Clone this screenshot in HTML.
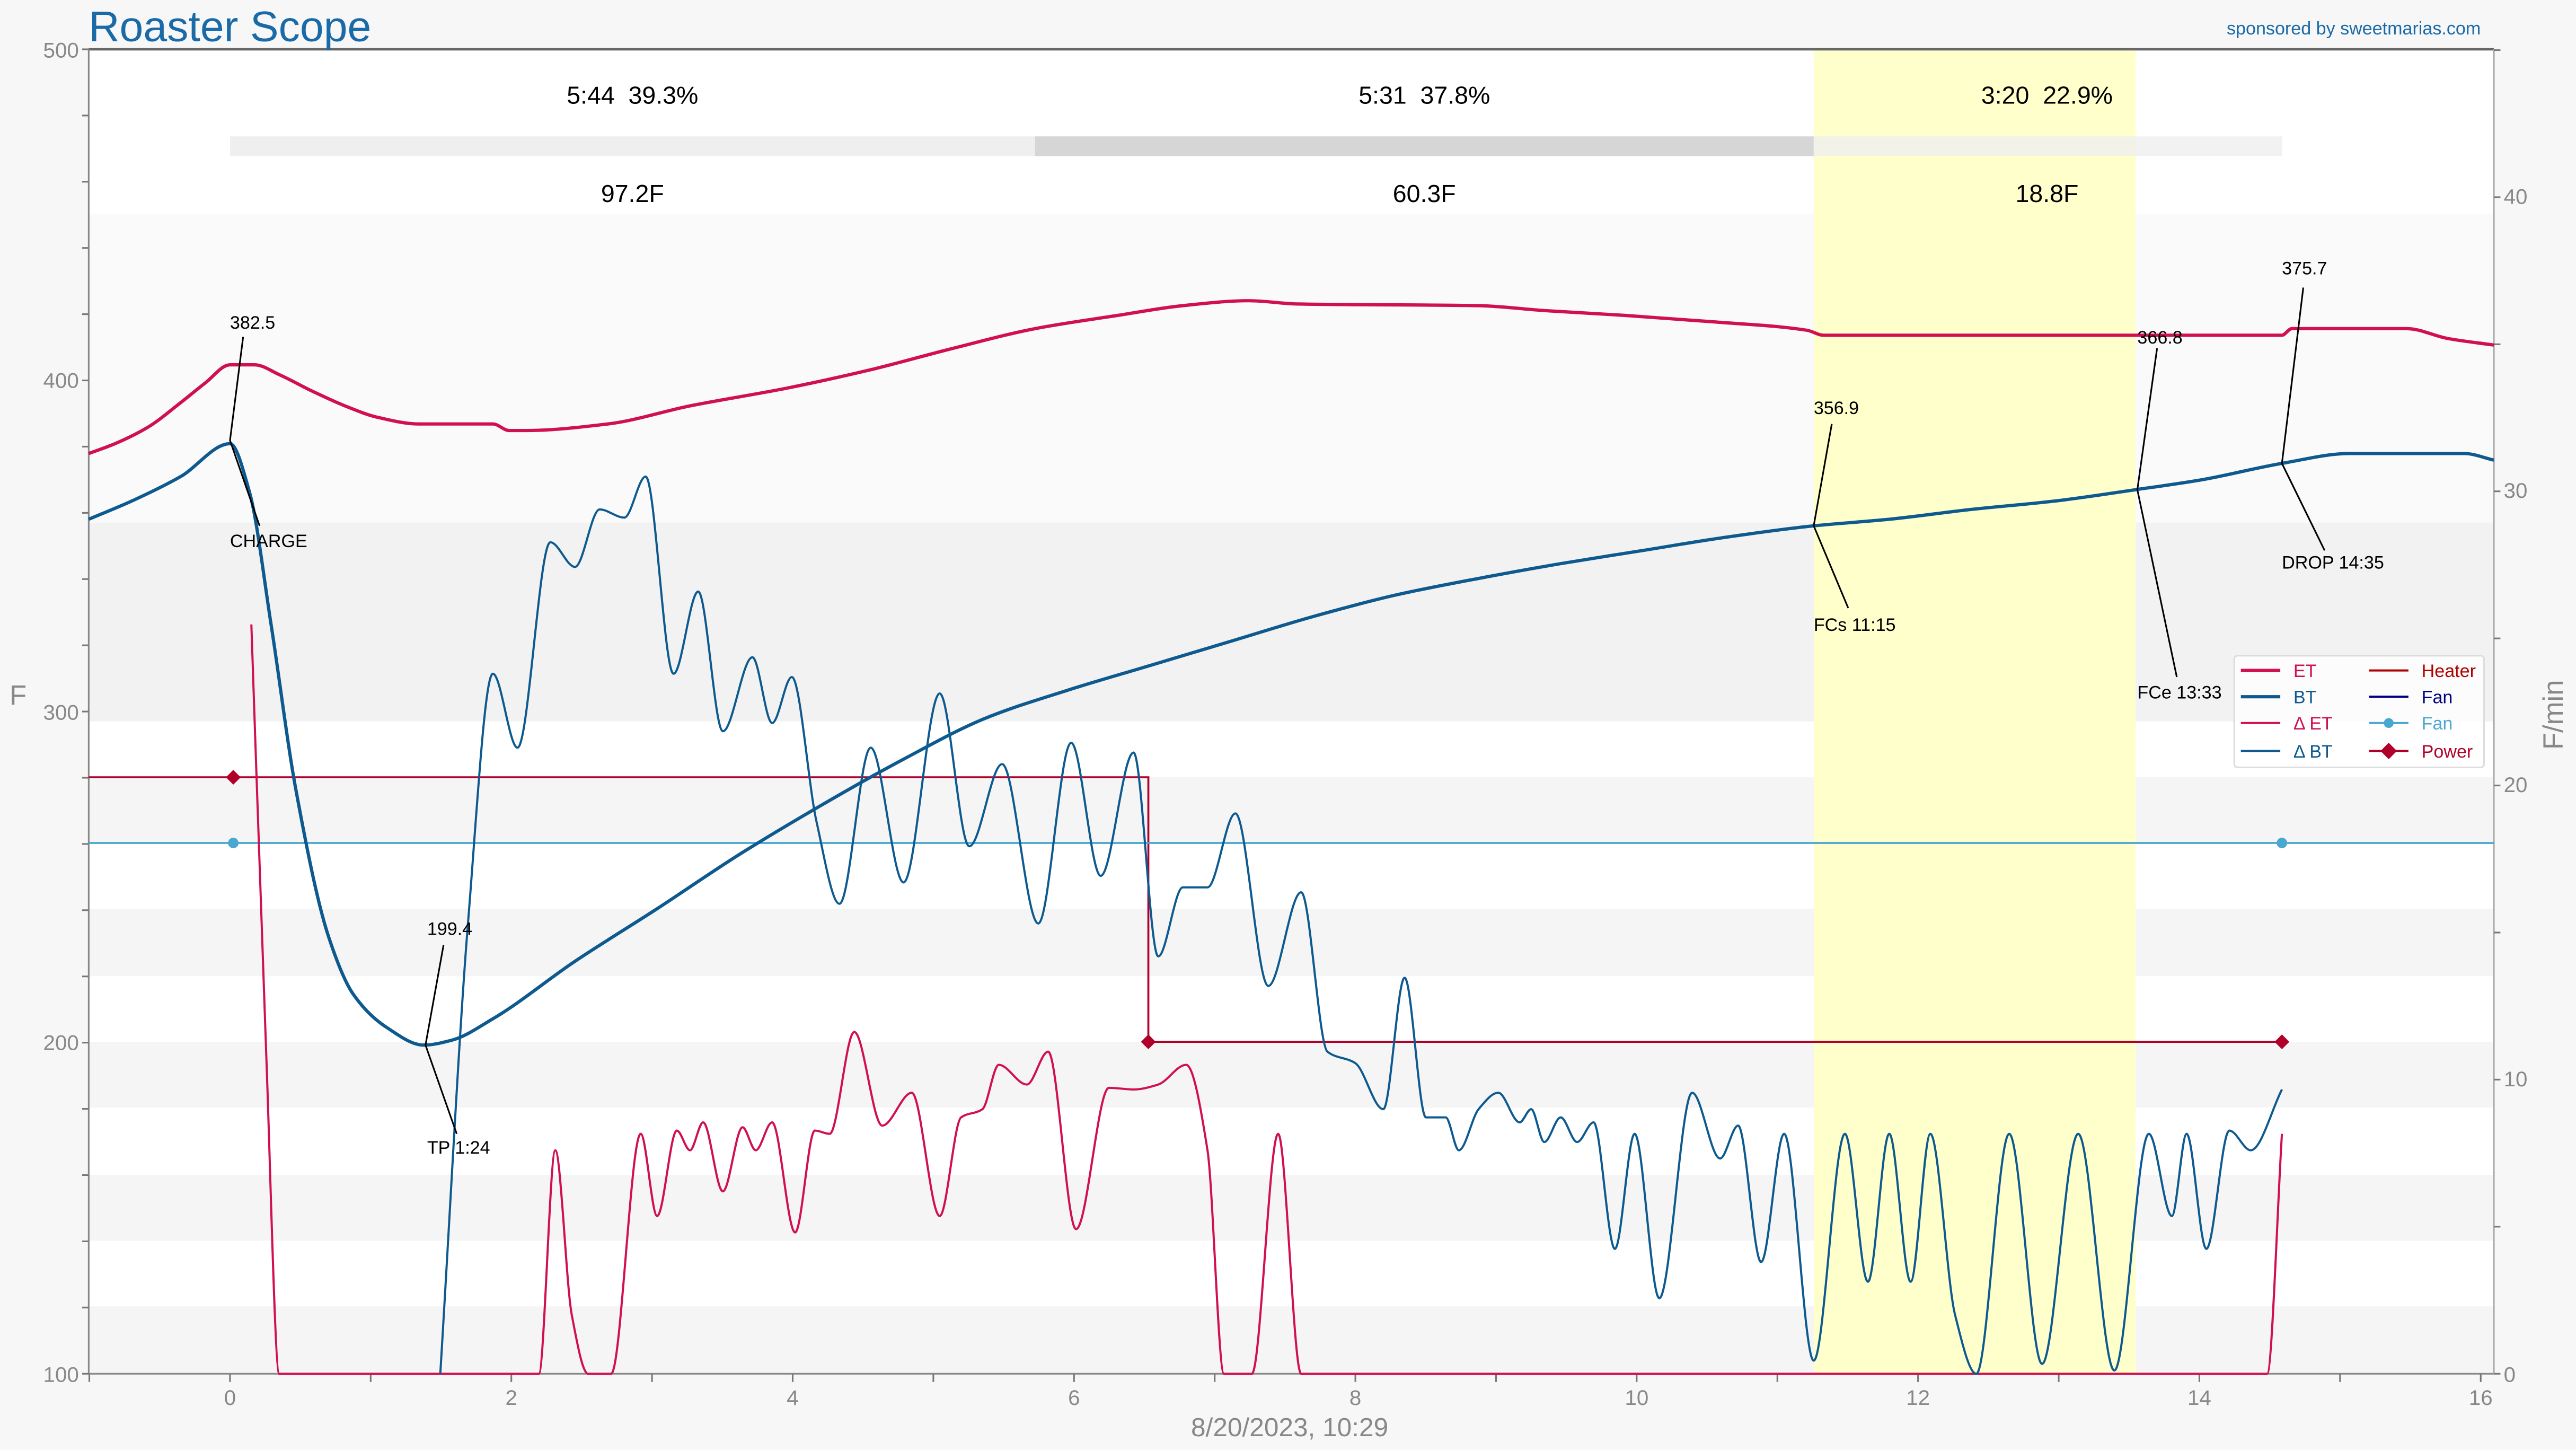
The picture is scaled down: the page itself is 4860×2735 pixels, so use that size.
<!DOCTYPE html>
<html><head><meta charset="utf-8"><style>
html,body{margin:0;padding:0;background:#f7f7f7;}
svg{display:block;}
text{font-family:"Liberation Sans",sans-serif;white-space:pre;}
</style></head><body>
<svg id="s" width="4860" height="2735" viewBox="0 0 1568 882.4" preserveAspectRatio="none" xmlns="http://www.w3.org/2000/svg" xml:space="preserve">
<rect x="0" y="0" width="1568" height="882.4" fill="#f7f7f7"/>
<rect x="54" y="30" width="1464" height="806" fill="#fff"/>
<rect x="54" y="130" width="1464" height="188" fill="#fafafa"/>
<rect x="54" y="318" width="1464" height="121" fill="#f2f2f2"/>
<g fill="#f5f5f5">
<rect x="54" y="473" width="1464" height="40"/>
<rect x="54" y="553" width="1464" height="41"/>
<rect x="54" y="634" width="1464" height="40"/>
<rect x="54" y="715" width="1464" height="40"/>
<rect x="54" y="795" width="1464" height="41"/>
</g>
<rect x="1104" y="30" width="196" height="806" fill="#ffffcc"/>
<rect x="140" y="83" width="490" height="12" fill="#efefef"/>
<rect x="630" y="83" width="474" height="12" fill="#d6d6d6"/>
<rect x="1104" y="83" width="285" height="12" fill="#efefef" opacity="0.8"/>
<g font-size="15" fill="#000" text-anchor="middle">
<text x="385" y="63">5:44  39.3%</text>
<text x="867" y="63">5:31  37.8%</text>
<text x="1246" y="63">3:20  22.9%</text>
<text x="385" y="123">97.2F</text>
<text x="867" y="123">60.3F</text>
<text x="1246" y="123">18.8F</text>
</g>
<line x1="54" y1="30" x2="1518" y2="30" stroke="#666" stroke-width="1.5"/>
<line x1="54" y1="30" x2="54" y2="836" stroke="#888" stroke-width="1"/>
<line x1="54" y1="836" x2="1518" y2="836" stroke="#888" stroke-width="1"/>
<line x1="1518" y1="30" x2="1518" y2="836" stroke="#aaa" stroke-width="1"/>
<g id="ticks" stroke="#777" stroke-width="1"></g>
<g font-size="13" fill="#888">
<g text-anchor="end">
<text x="48" y="35">500</text><text x="48" y="236">400</text><text x="48" y="438">300</text><text x="48" y="639">200</text><text x="48" y="841">100</text>
</g>
<g text-anchor="start">
<text x="1524" y="124">40</text><text x="1524" y="303">30</text><text x="1524" y="482">20</text><text x="1524" y="661">10</text><text x="1524" y="841">0</text>
</g>
<g text-anchor="middle" id="xl"></g>
</g>
<text x="11" y="429" font-size="17" fill="#888" text-anchor="middle">F</text>
<text x="1560" y="435" font-size="17" fill="#888" text-anchor="middle" transform="rotate(-90 1560 435)">F/min</text>
<text x="785" y="874" font-size="16" fill="#888" text-anchor="middle">8/20/2023, 10:29</text>
<text x="54" y="25" font-size="26" fill="#1a6aa8">Roaster Scope</text>
<text x="1510" y="21" font-size="11" fill="#1a6aa8" text-anchor="end">sponsored by sweetmarias.com</text>
<g id="series"></g>
<g font-size="11" fill="#000" stroke="none">
<text x="140" y="200">382.5</text><text x="140" y="333">CHARGE</text>
<text x="260" y="569">199.4</text><text x="260" y="702">TP 1:24</text>
<text x="1104" y="252">356.9</text><text x="1104" y="384">FCs 11:15</text>
<text x="1301" y="209">366.8</text><text x="1301" y="425">FCe 13:33</text>
<text x="1389" y="167">375.7</text><text x="1389" y="346">DROP 14:35</text>
</g>
<g stroke="#000" stroke-width="1" fill="none">
<polyline points="148,205 140,268 158,320"/>
<polyline points="270,575 259,636 278,690"/>
<polyline points="1115,258 1104,320 1125,370"/>
<polyline points="1313,212 1301,298 1325,412"/>
<polyline points="1402,175 1389,282 1415,335"/>
</g>
<rect x="1360" y="399" width="152" height="68" rx="2" fill="#fff" fill-opacity="0.75" stroke="#ddd" stroke-width="1"/>
<g font-size="11">
<line x1="1364" y1="408" x2="1388" y2="408" stroke="#d0104f" stroke-width="2"/><text x="1396" y="412" fill="#d0104f">ET</text>
<line x1="1364" y1="424" x2="1388" y2="424" stroke="#0e5a8f" stroke-width="2"/><text x="1396" y="428" fill="#0e5a8f">BT</text>
<line x1="1364" y1="440" x2="1388" y2="440" stroke="#d0104f" stroke-width="1.3"/><text x="1396" y="444" fill="#d0104f">Δ ET</text>
<line x1="1364" y1="457" x2="1388" y2="457" stroke="#0e5a8f" stroke-width="1.3"/><text x="1396" y="461" fill="#0e5a8f">Δ BT</text>
<line x1="1442" y1="408" x2="1466" y2="408" stroke="#b00000" stroke-width="1.3"/><text x="1474" y="412" fill="#b00000">Heater</text>
<line x1="1442" y1="424" x2="1466" y2="424" stroke="#000080" stroke-width="1.3"/><text x="1474" y="428" fill="#000080">Fan</text>
<line x1="1442" y1="440" x2="1466" y2="440" stroke="#4aa8d0" stroke-width="1.3"/><circle cx="1454" cy="440" r="3" fill="#4aa8d0"/><text x="1474" y="444" fill="#4aa8d0">Fan</text>
<line x1="1442" y1="457" x2="1466" y2="457" stroke="#b0002a" stroke-width="1.3"/><path d="M1454,452 L1459,457 L1454,462 L1449,457Z" fill="#b0002a"/><text x="1474" y="461" fill="#b0002a">Power</text>
</g>
</svg>
<script>
var NS="http://www.w3.org/2000/svg";
function el(p,t,a){var e=document.createElementNS(NS,t);for(var k in a)e.setAttribute(k,a[k]);p.appendChild(e);return e;}
var tk=document.getElementById("ticks");
for(var v=100;v<=500;v+=20){var y=836-(v-100)*2.015;el(tk,"line",{x1:50,y1:y,x2:54,y2:y});}
for(var v=0;v<=45;v+=5){var y=836-v*17.9;if(y<30)continue;el(tk,"line",{x1:1518,y1:y,x2:1522,y2:y});}
var xl=document.getElementById("xl");
for(var i=-1;i<=16;i++){var x=140+i*85.625;el(tk,"line",{x1:x,y1:836,x2:x,y2:841});if(i%2==0){var t=el(xl,"text",{x:x,y:855});t.textContent=i;}}
function mono(p){var n=p.length,d=[],h=[],m=[];
for(var i=0;i<n-1;i++){h[i]=p[i+1][0]-p[i][0];d[i]=(p[i+1][1]-p[i][1])/h[i];}
m[0]=d[0];m[n-1]=d[n-2];
for(var i=1;i<n-1;i++){if(d[i-1]*d[i]<=0)m[i]=0;else m[i]=3*(h[i-1]+h[i])/((2*h[i]+h[i-1])/d[i-1]+(h[i]+2*h[i-1])/d[i]);}
var s="M"+p[0][0]+","+p[0][1];
for(var i=0;i<n-1;i++){var a=p[i],b=p[i+1],k=h[i]/3;
s+=" C"+(a[0]+k)+","+(a[1]+m[i]*k)+" "+(b[0]-k)+","+(b[1]-m[i+1]*k)+" "+b[0]+","+b[1];}
return s;}
var S=document.getElementById("series");
el(S,"polyline",{points:"54,473 699,473 699,634 1389,634",fill:"none",stroke:"#b0002a","stroke-width":1.2});
el(S,"line",{x1:54,y1:513,x2:1518,y2:513,stroke:"#4aa8d0","stroke-width":1.2});
[[142,513],[1389,513]].forEach(function(c){el(S,"circle",{cx:c[0],cy:c[1],r:3.2,fill:"#4aa8d0"});});
[[142,473],[699,634],[1389,634]].forEach(function(c){el(S,"path",{d:"M"+c[0]+","+(c[1]-4.5)+" L"+(c[0]+4.5)+","+c[1]+" L"+c[0]+","+(c[1]+4.5)+" L"+(c[0]-4.5)+","+c[1]+"Z",fill:"#b0002a"});});
var dET=[[153,380],[162,640],[170,836],[328,836],[338,700],[348,800],[358,836],[372,836],[390,690],[400,740],[412,688],[420,700],[428,683],[440,725],[452,686],[460,700],[470,683],[484,750],[496,688],[505,690],[520,628],[537,685],[555,665],[572,740],[585,680],[598,675],[608,648],[625,660],[638,640],[655,748],[675,662],[690,663],[705,660],[722,648],[735,700],[745,836],[762,836],[778,690],[792,836],[1380,836],[1389,690]];
var dBT=[[268,836],[285,560],[300,410],[315,455],[335,330],[350,345],[365,310],[380,315],[393,290],[410,410],[425,360],[440,445],[458,400],[470,440],[482,412],[497,500],[511,550],[530,455],[550,537],[572,422],[590,515],[610,465],[632,562],[652,452],[670,533],[690,458],[705,582],[720,540],[735,540],[752,495],[772,600],[792,543],[808,640],[825,647],[842,675],[855,595],[868,680],[880,680],[888,700],[900,675],[912,665],[925,683],[932,675],[940,695],[950,680],[960,695],[970,683],[983,760],[995,690],[1010,790],[1030,665],[1047,705],[1058,685],[1072,768],[1086,690],[1104,828],[1123,690],[1137,780],[1150,690],[1163,780],[1175,690],[1190,800],[1203,836],[1223,690],[1243,830],[1265,690],[1287,834],[1308,690],[1322,740],[1331,690],[1343,760],[1357,688],[1370,700],[1389,663]];
el(S,"path",{d:mono(dET),fill:"none",stroke:"#d0104f","stroke-width":1.3});
el(S,"path",{d:mono(dBT),fill:"none",stroke:"#0e5a8f","stroke-width":1.3});
var ET=[[54,276],[70,270],[90,260],[110,245],[125,233],[140,222],[155,222],[170,228],[190,238],[210,247],[230,254],[255,258],[300,258],[310,262],[320,262],[370,258],[420,247],[480,236],[530,225],[580,212],[630,200],[680,192],[720,186],[760,183],[790,185],[900,186],[940,189],[990,192],[1045,196],[1100,201],[1110,204],[1389,204],[1395,200],[1465,200],[1490,206],[1518,210]];
var BT=[[54,316],[80,305],[110,290],[140,270],[152,300],[165,380],[180,480],[200,570],[215,605],[235,625],[258,636],[275,633],[300,620],[350,585],[400,553],[450,520],[500,490],[550,462],[600,437],[650,420],[700,405],[750,390],[800,375],[850,362],[900,352],[950,343],[1000,335],[1050,327],[1104,320],[1150,316],[1200,310],[1250,305],[1300,298],[1340,292],[1389,282],[1430,276],[1500,276],[1518,280]];
el(S,"path",{d:mono(ET),fill:"none",stroke:"#d0104f","stroke-width":2});
el(S,"path",{d:mono(BT),fill:"none",stroke:"#0e5a8f","stroke-width":2});
</script>
</body></html>
